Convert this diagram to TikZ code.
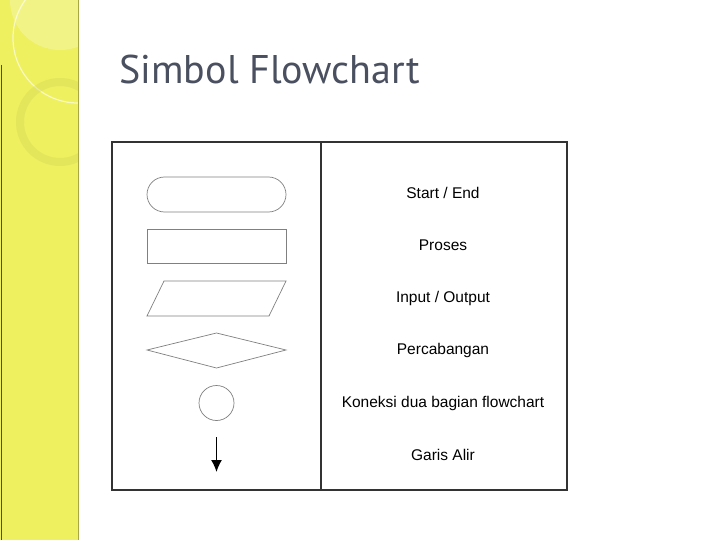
\documentclass[tikz,border=0pt]{standalone}
\usepackage{fontspec}
\usetikzlibrary{arrows.meta}
\setmainfont{Liberation Sans}
\newfontfamily\titlefont{PT Sans}
\definecolor{band}{HTML}{EEF060}
\definecolor{titlec}{HTML}{4A5060}
\definecolor{shp}{HTML}{808080}
\begin{document}
\begin{tikzpicture}[x=1pt,y=-1pt,
  sym/.style={draw=shp,line width=0.7pt},
  lbl/.style={font=\fontsize{15.5}{18}\selectfont,anchor=center}]
\useasboundingbox (0,0) rectangle (720,540);
\fill[white] (0,0) rectangle (720,540);
\fill[band] (0,0) rectangle (78,540);
\begin{scope}
\clip (0,0) rectangle (78,540);
\draw[white,opacity=0.6,line width=1.2pt] (78,38) circle (65);
\fill[white,opacity=0.25] (60,0) circle (50);
\draw[band!85!black,opacity=0.3,line width=8pt] (60,122) circle (40);
\end{scope}
\draw[black!70,line width=1pt] (1,65) -- (1,540);
\draw[band!70!black,line width=0.6pt] (78,0) -- (78,540);
\node[anchor=west,text=titlec,font=\titlefont\fontsize{40}{46}\selectfont] (title) at (116,70) {Simbol Flowchart};
% table
\draw[black!80,line width=1.3pt] (112,142) rectangle (567,490);
\draw[black!80,line width=1.3pt] (321,142) -- (321,490);
% shapes
\draw[sym,rounded corners=17.5pt] (147,177) rectangle (286,212);
\node (term) at (216.5,194.5) {};
\draw[sym] (147,229) rectangle (286,263);
\node (proc) at (216.5,246) {};
\draw[sym] (164,281) -- (286,281) -- (269,316) -- (147,316) -- cycle;
\draw[sym] (147,350) -- (216.5,333) -- (286,350) -- (216.5,368) -- cycle;
\draw[sym] (216.5,403) circle (17.5);
\coordinate (a1) at (216.5,437);
\coordinate (a2) at (216.5,472);
\draw[line width=1.4pt,-{Latex[length=12pt,width=11pt]}] (a1) -- (a2);
% labels
\node[lbl] (l1) at (443,193) {Start / End};
\node[lbl] (l2) at (443,245) {Proses};
\node[lbl] (l3) at (443,298) {Input / Output};
\node[lbl] (l4) at (443,350) {Percabangan};
\node[lbl] (l5) at (443,403) {Koneksi dua bagian flowchart};
\node[lbl] (l6) at (443,455) {Garis Alir};
\end{tikzpicture}
\end{document}
